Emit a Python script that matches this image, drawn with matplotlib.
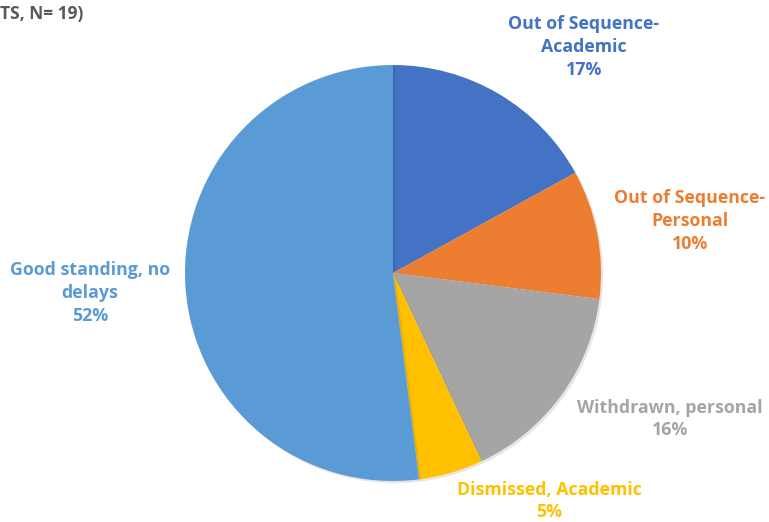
import matplotlib.pyplot as plt
import matplotlib.patheffects as pe

# Student status breakdown
categorias = ['Out of Sequence-\nAcademic', 'Out of Sequence-\nPersonal',
              'Withdrawn, personal', 'Dismissed, Academic',
              'Good standing, no\ndelays']
porcentajes = [17, 10, 16, 5, 52]
colores = ['#4472C4', '#ED7D31', '#A5A5A5', '#FFC000', '#5B9BD5']

# label centres in pixel coords (x, y from top)
pos_etiquetas = [(584, 47), (690, 221), (670, 419), (549, 501), (90, 293)]

plt.rcParams['font.family'] = ['Open Sans', 'DejaVu Sans']

fig = plt.figure(figsize=(7.69, 5.22), dpi=100)
ax = fig.add_axes([0, 0, 1, 1])

cuñas, _ = ax.pie(porcentajes, colors=colores, startangle=90, counterclock=False,
                  center=(393, 522 - 273), radius=208,
                  wedgeprops=dict(linewidth=0))
for w in cuñas:
    w.set_path_effects([pe.SimplePatchShadow(offset=(1.5, -1.5), alpha=0.12), pe.Normal()])

# pie() resets the limits, so fix them afterwards
ax.set_xlim(0, 769)
ax.set_ylim(0, 522)
ax.set_aspect('equal')
ax.axis('off')

for cat, p, c, (x, y) in zip(categorias, porcentajes, colores, pos_etiquetas):
    ax.text(x, 522 - y, '%s\n%d%%' % (cat, p), color=c, fontsize=12.8,
            fontweight='bold', ha='center', va='center', linespacing=1.33)

ax.text(0, 522 - 14, 'TS, N= 19)', color='#595959', fontsize=12.5,
        fontweight='bold', ha='left', va='center')

plt.savefig('out.png', dpi=100)
